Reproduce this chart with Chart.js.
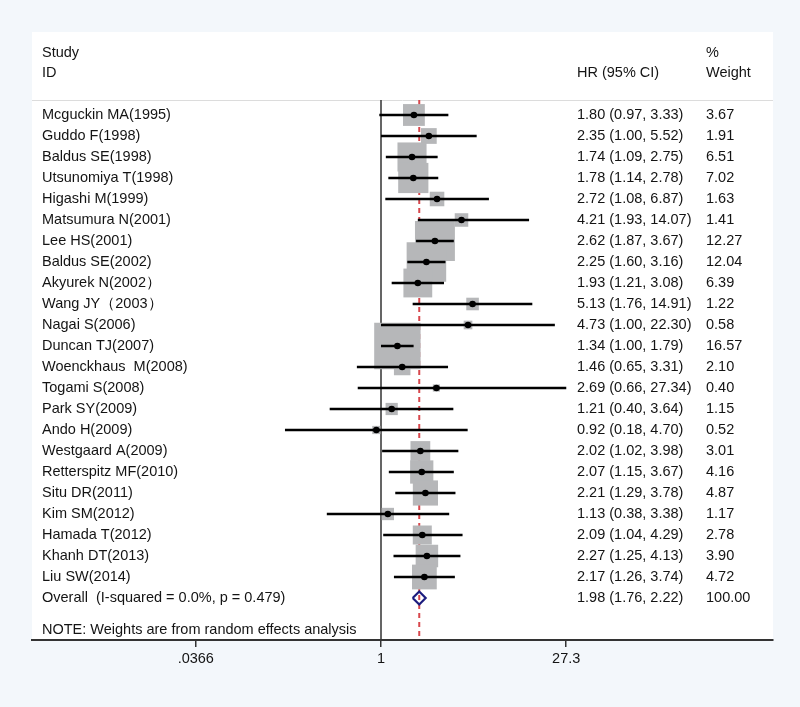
<!DOCTYPE html>
<html><head><meta charset="utf-8">
<script src="https://cdn.jsdelivr.net/npm/chart.js@4.4.1/dist/chart.umd.min.js"></script>
<style>html,body{margin:0;padding:0;background:#f3f7fb;}canvas{display:block}</style>
</head><body>
<canvas id="c" width="800" height="707"></canvas>
<script>
const studies = ["Mcguckin MA(1995)","Guddo F(1998)","Baldus SE(1998)","Utsunomiya T(1998)","Higashi M(1999)","Matsumura N(2001)","Lee HS(2001)","Baldus SE(2002)","Akyurek N(2002）","Wang JY（2003）","Nagai S(2006)","Duncan TJ(2007)","Woenckhaus  M(2008)","Togami S(2008)","Park SY(2009)","Ando H(2009)","Westgaard A(2009)","Retterspitz MF(2010)","Situ DR(2011)","Kim SM(2012)","Hamada T(2012)","Khanh DT(2013)","Liu SW(2014)"];
const hr     = [1.80,2.35,1.74,1.78,2.72,4.21,2.62,2.25,1.93,5.13,4.73,1.34,1.46,2.69,1.21,0.92,2.02,2.07,2.21,1.13,2.09,2.27,2.17];
const ciLow  = [0.97,1.00,1.09,1.14,1.08,1.93,1.87,1.60,1.21,1.76,1.00,1.00,0.65,0.66,0.40,0.18,1.02,1.15,1.29,0.38,1.04,1.25,1.26];
const ciHigh = [3.33,5.52,2.75,2.78,6.87,14.07,3.67,3.16,3.08,14.91,22.30,1.79,3.31,27.34,3.64,4.70,3.98,3.67,3.78,3.38,4.29,4.13,3.74];
const weights= [3.67,1.91,6.51,7.02,1.63,1.41,12.27,12.04,6.39,1.22,0.58,16.57,2.10,0.40,1.15,0.52,3.01,4.16,4.87,1.17,2.78,3.90,4.72];
const overallLabel = "Overall  (I-squared = 0.0%, p = 0.479)";
const overallHR = 1.98, overallLow = 1.76, overallHigh = 2.22, overallWeight = "100.00";
const noteText = "NOTE: Weights are from random effects analysis";
const tickValues = [0.0366, 1, 27.3];
const tickLabels = [".0366", "1", "27.3"];

const fmt = v => v.toFixed(2);
const nRows = studies.length;
const overallRow = nRows;
const noteRow = nRows + 1.52;
const FONT = '14.5px "Liberation Sans", Arial, sans-serif';
const TXT = '#141414';

const datasets = [];
datasets.push({type:'line', data:[{x:1,y:-0.714},{x:1,y:25}], borderColor:'#333', borderWidth:1.5, pointRadius:0, order:6});
datasets.push({type:'line', data:[{x:overallHR,y:-0.714},{x:overallHR,y:25}], borderColor:'#d8474c', borderWidth:2, borderDash:[5,4], pointRadius:0, order:5});
datasets.push({type:'scatter', data:studies.map((s,i)=>({x:hr[i],y:i})), pointStyle:'rect',
  pointRadius: c => 11.4*Math.sqrt(weights[c.dataIndex])/Math.SQRT2,
  pointBackgroundColor:'#b6b7b9', pointBorderWidth:0, order:4});
studies.forEach((s,i)=>{
  datasets.push({type:'line', data:[{x:ciLow[i],y:i},{x:ciHigh[i],y:i}], borderColor:'#000', borderWidth:2.4, pointRadius:0, order:3});
});
datasets.push({type:'scatter', data:studies.map((s,i)=>({x:hr[i],y:i})), pointStyle:'circle', pointRadius:3.3, pointBackgroundColor:'#000', pointBorderWidth:0, order:1});
const dh = 0.31;
datasets.push({type:'line', data:[{x:overallLow,y:overallRow},{x:overallHR,y:overallRow-dh},{x:overallHigh,y:overallRow},{x:overallHR,y:overallRow+dh},{x:overallLow,y:overallRow}],
  borderColor:'#1c1c7e', borderWidth:2.2, pointRadius:0, borderJoinStyle:'miter', order:1});

const bgPlugin = {
  id:'bg',
  beforeDraw(chart){
    const ctx = chart.ctx, a = chart.chartArea;
    ctx.save();
    ctx.fillStyle = '#f3f7fb';
    ctx.fillRect(0,0,chart.width,chart.height);
    ctx.fillStyle = '#ffffff';
    ctx.fillRect(a.left, a.top, a.right-a.left, a.bottom-a.top);
    const y = chart.scales.y;
    ctx.strokeStyle = '#dcdcdc'; ctx.lineWidth = 1;
    const sy = Math.round(y.getPixelForValue(-0.714)) + 0.5;
    ctx.beginPath(); ctx.moveTo(a.left, sy); ctx.lineTo(a.right, sy); ctx.stroke();
    ctx.restore();
  }
};
const textPlugin = {
  id:'txt',
  afterDatasetsDraw(chart){
    const ctx = chart.ctx, y = chart.scales.y;
    ctx.save();
    ctx.font = FONT; ctx.fillStyle = TXT; ctx.textBaseline = 'middle'; ctx.textAlign = 'left';
    const xName = 42, xHR = 577, xW = 706;
    ctx.fillText('Study', xName, y.getPixelForValue(-2.952));
    ctx.fillText('ID', xName, y.getPixelForValue(-2.0));
    ctx.fillText('HR (95% CI)', xHR, y.getPixelForValue(-2.0));
    ctx.fillText('%', xW, y.getPixelForValue(-2.952));
    ctx.fillText('Weight', xW, y.getPixelForValue(-2.0));
    studies.forEach((s,i)=>{
      const py = y.getPixelForValue(i);
      ctx.fillText(s, xName, py);
      ctx.fillText(fmt(hr[i])+' ('+fmt(ciLow[i])+', '+fmt(ciHigh[i])+')', xHR, py);
      ctx.fillText(fmt(weights[i]), xW, py);
    });
    const po = y.getPixelForValue(overallRow);
    ctx.fillText(overallLabel, xName, po);
    ctx.fillText(fmt(overallHR)+' ('+fmt(overallLow)+', '+fmt(overallHigh)+')', xHR, po);
    ctx.fillText(overallWeight, xW, po);
    ctx.fillText(noteText, xName, y.getPixelForValue(noteRow));
    ctx.restore();
  }
};

new Chart(document.getElementById('c'), {
  type:'scatter',
  data:{datasets},
  options:{
    responsive:false, animation:false, devicePixelRatio:1,
    layout:{autoPadding:false, padding:{left:32,right:27,top:32,bottom:0}},
    plugins:{legend:{display:false}, tooltip:{enabled:false}},
    scales:{
      x:{type:'logarithmic', min:Math.exp(-349/56), max:Math.exp(392/56),
        afterBuildTicks(scale){ scale.ticks = tickValues.map(v=>({value:v})); },
        afterFit(scale){ scale.height = 67; scale.paddingLeft = 0; scale.paddingRight = 0; },
        ticks:{autoSkip:false, maxRotation:0, padding:3, color:TXT,
          font:{family:'"Liberation Sans", Arial, sans-serif', size:14.5},
          callback:(v,i)=>tickLabels[i]},
        grid:{display:true, drawOnChartArea:false, drawTicks:true, tickLength:7, color:'#333', lineWidth:1.5},
        border:{display:true, color:'#333', width:2}
      },
      y:{type:'linear', display:false, reverse:true, min:-3.952, max:25}
    }
  },
  plugins:[bgPlugin, textPlugin]
});
</script>
</body></html>
